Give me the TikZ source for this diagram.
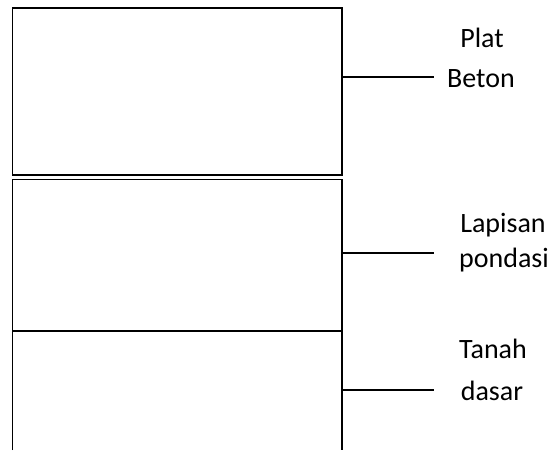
\documentclass[tikz,border=0pt]{standalone}
\usepackage{fontspec}
\setmainfont{Carlito}
\begin{document}
\begin{tikzpicture}[x=1pt,y=-1pt,
  layer/.style={draw=black,line width=1.8pt},
  leader/.style={draw=black,line width=1.4pt},
  lbl/.style={anchor=base,inner sep=0pt,font=\fontsize{28}{34}\selectfont}]
\useasboundingbox (0,0) rectangle (559,450);
% soil layers
\draw[layer] (12.5,8) rectangle (342,175);
\draw[layer] (12.5,179.5) rectangle (342,331);
\draw[layer] (12.5,450) -- (12.5,331) -- (342,331) -- (342,450);
% anchor points on the right side of each layer
\coordinate (p1) at (342,77);
\coordinate (p2) at (342,253);
\coordinate (p3) at (342,390);
\coordinate (e1) at (434,77);
\coordinate (e2) at (434,253);
\coordinate (e3) at (434,390);
\draw[leader] (p1) -- (e1);
\draw[leader] (p2) -- (e2);
\draw[leader] (p3) -- (e3);
% labels
\node[lbl] (t1a) at (482,47) {Plat};
\node[lbl] (t1b) at (481,87) {Beton};
\node[lbl] (t2a) at (503,232) {Lapisan};
\node[lbl] (t2b) at (504,267) {pondasi};
\node[lbl] (t3a) at (493,358) {Tanah};
\node[lbl] (t3b) at (492,400) {dasar};
\end{tikzpicture}
\end{document}
